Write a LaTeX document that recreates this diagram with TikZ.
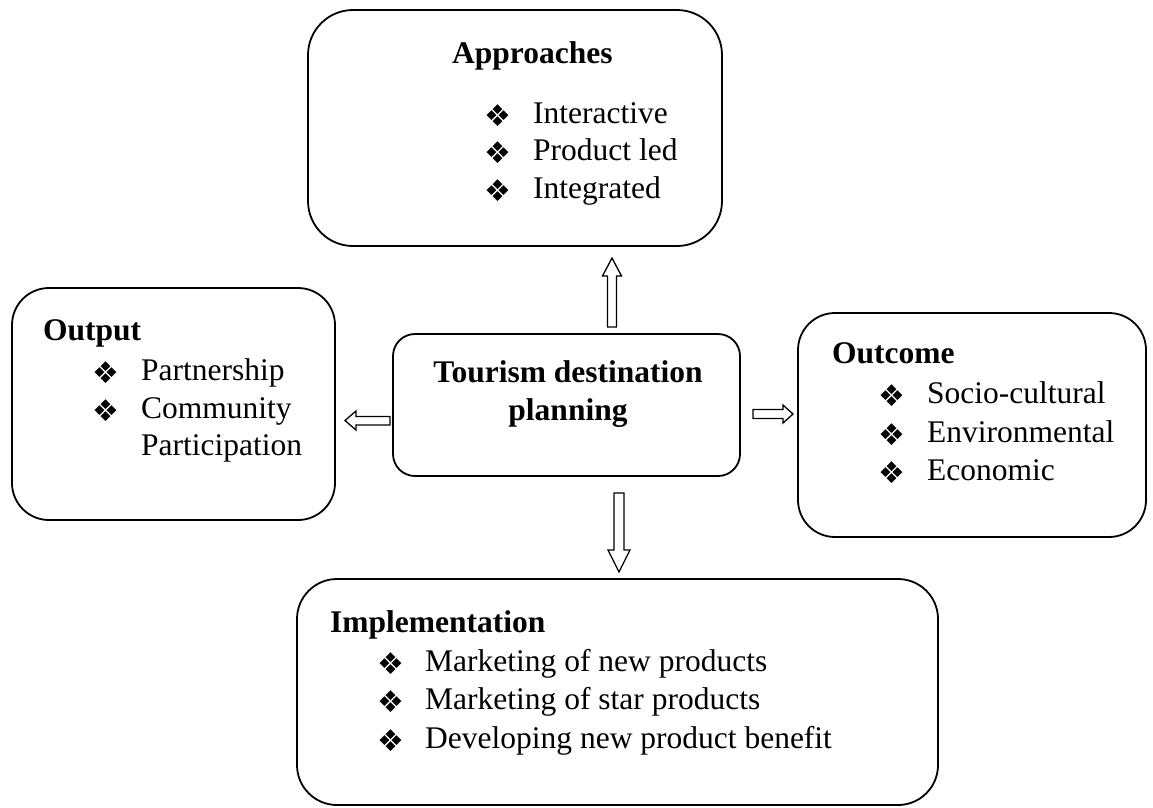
\documentclass[tikz,border=0pt]{standalone}
\usepackage{fontspec}
\setmainfont{Liberation Serif}
\newfontfamily\symfont{DejaVu Sans}
\begin{document}
\begin{tikzpicture}[x=1pt,y=-1pt,
  box/.style={draw, line width=1.8pt, inner sep=0pt},
  blockarrow/.style={draw, line width=1.3pt, fill=white, line join=miter},
  txt/.style={anchor=base west, inner sep=0pt, font=\fontsize{31.5}{37.5}\selectfont},
  head/.style={anchor=base west, inner sep=0pt, font=\fontsize{31.5}{37.5}\selectfont\bfseries},
  ctxt/.style={anchor=base, inner sep=0pt, font=\fontsize{31.5}{37.5}\selectfont\bfseries},
  bul/.style={anchor=center, inner sep=0pt, font=\symfont\fontsize{30}{30}\selectfont}
]
\useasboundingbox (0,0) rectangle (1153,807);

% boxes
\node[box, minimum width=414pt, minimum height=236pt, rounded corners=45pt] (appbox) at (515,128) {};
\node[box, minimum width=323pt, minimum height=232pt, rounded corners=37pt] (outbox) at (173.5,404) {};
\node[box, minimum width=347pt, minimum height=142pt, rounded corners=22pt] (ctrbox) at (566.5,405) {};
\node[box, minimum width=348pt, minimum height=224pt, rounded corners=37pt] (ocbox) at (972,425) {};
\node[box, minimum width=641pt, minimum height=226pt, rounded corners=40pt] (impbox) at (617.5,692) {};

% approaches
\node[head] (apph) at (452,63) {Approaches};
\node[bul] (ab1) at (498,115.5) {❖};
\node[txt] (a1) at (533,123) {Interactive};
\node[bul] (ab2) at (498,153) {❖};
\node[txt] (a2) at (533,160.5) {Product led};
\node[bul] (ab3) at (498,190.5) {❖};
\node[txt] (a3) at (533,198) {Integrated};

% output
\node[head] (outh) at (43,340) {Output};
\node[bul] (ob1) at (106,372.5) {❖};
\node[txt] (o1) at (141,380) {Partnership};
\node[bul] (ob2) at (106,410.5) {❖};
\node[txt] (o2) at (141,418) {Community};
\node[txt] (o3) at (141,455.5) {Participation};

% centre
\node[ctxt] (c1) at (568,382) {Tourism destination};
\node[ctxt] (c2) at (568,420) {planning};

% outcome
\node[head] (och) at (832,363) {Outcome};
\node[bul] (cb1) at (892,395.5) {❖};
\node[txt] (oc1) at (927,403) {Socio-cultural};
\node[bul] (cb2) at (892,434.5) {❖};
\node[txt] (oc2) at (927,442) {Environmental};
\node[bul] (cb3) at (892,472.5) {❖};
\node[txt] (oc3) at (927,480) {Economic};

% implementation
\node[head] (imph) at (330,632) {Implementation};
\node[bul] (ib1) at (391,663.5) {❖};
\node[txt] (i1) at (425,671) {Marketing of new products};
\node[bul] (ib2) at (391,701.5) {❖};
\node[txt] (i2) at (425,709) {Marketing of star products};
\node[bul] (ib3) at (391,740.5) {❖};
\node[txt] (i3) at (425,748) {Developing new product benefit};

% block arrows
% up
\draw[blockarrow] (607.5,327) -- (607.5,276) -- (602.5,276) -- (612,258) -- (621.5,276) -- (616.5,276) -- (616.5,327) -- cycle;
% left
\draw[blockarrow] (390,416.5) -- (356,416.5) -- (356,411) -- (345,420.5) -- (356,430) -- (356,425) -- (390,425) -- cycle;
% right
\draw[blockarrow] (753,409.5) -- (783,409.5) -- (783,405) -- (793,414) -- (783,423) -- (783,418.5) -- (753,418.5) -- cycle;
% down
\draw[blockarrow] (614,493) -- (614,550) -- (608,550) -- (619,572) -- (630,550) -- (624,550) -- (624,493) -- cycle;
\end{tikzpicture}
\end{document}
